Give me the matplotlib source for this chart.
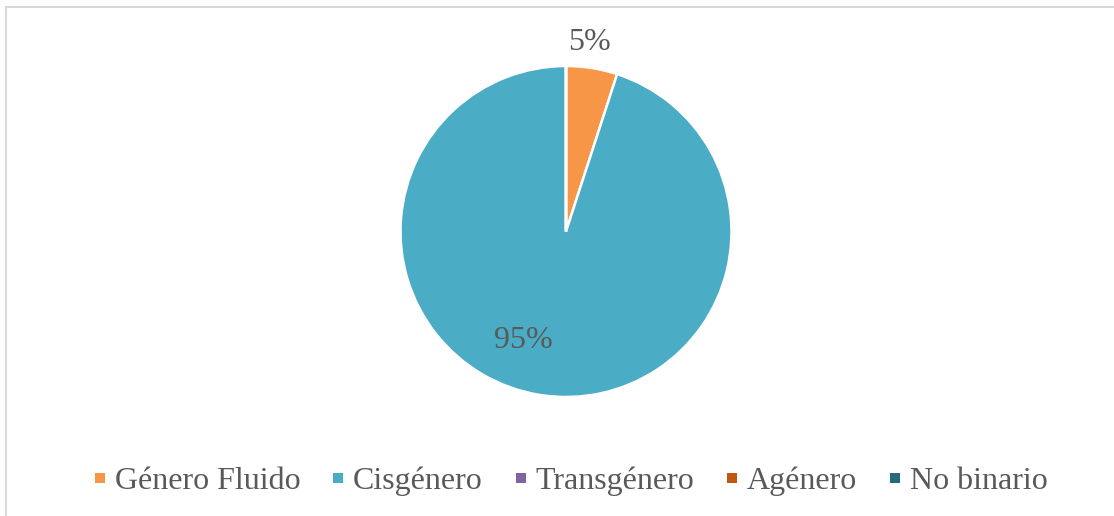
import matplotlib
matplotlib.use("Agg")
import matplotlib.pyplot as plt
from matplotlib.lines import Line2D
from matplotlib.patches import Rectangle

# --- data -----------------------------------------------------------------
categories = ["Género Fluido", "Cisgénero", "Transgénero", "Agénero", "No binario"]
values = [5, 95, 0, 0, 0]
colors = ["#F79646", "#4BACC6", "#8064A2", "#C0580F", "#276A7C"]

plt.rcParams["font.family"] = ["Liberation Serif", "DejaVu Serif"]
TEXT = "#595959"

W, H = 1114, 516
fig = plt.figure(figsize=(W / 100, H / 100), dpi=100)
ax = fig.add_axes([0, 0, 1, 1])

# chart border (only top/left visible in the crop)
ax.add_patch(Rectangle((5.5, -10), W + 20, H - 6.5 + 10, fill=False,
                       edgecolor="#D9D9D9", linewidth=1.5))

cx, cy, r = 566, H - 231.5, 165.5
wedges, _ = ax.pie(
    values,
    colors=colors,
    startangle=90,
    counterclock=False,
    center=(cx, cy),
    radius=r,
    wedgeprops=dict(edgecolor="white", linewidth=1.8),
    frame=True,
)
ax.set_xlim(0, W)
ax.set_ylim(0, H)
ax.set_aspect("equal")
ax.axis("off")

# percentage labels
total = sum(values)
ax.text(590, H - 43, f"{values[0] / total:.0%}", ha="center", va="center",
        fontsize=23, color=TEXT)
ax.text(523, H - 341, f"{values[1] / total:.0%}", ha="center", va="center",
        fontsize=23, color=TEXT)

handles = [Line2D([], [], marker="s", linestyle="none", markersize=7.3,
                  markerfacecolor=c, markeredgewidth=0) for c in colors]
leg = ax.legend(
    handles,
    categories,
    loc="center",
    bbox_to_anchor=(571 / W, 1 - 481 / H),
    ncol=5,
    frameon=False,
    fontsize=23,
    handlelength=0.35,
    handletextpad=0.3,
    columnspacing=1.0,
    labelcolor=TEXT,
)

fig.savefig("out.png", dpi=100)
